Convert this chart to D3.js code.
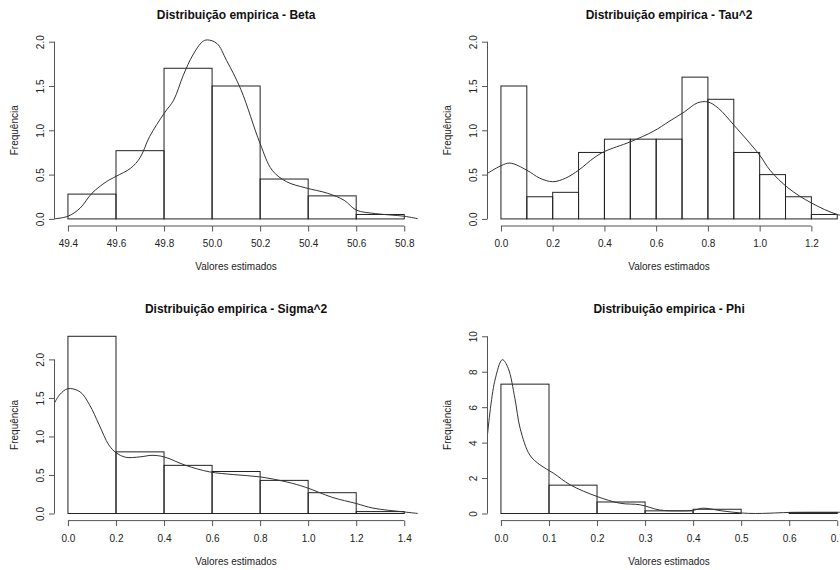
<!DOCTYPE html>
<html>
<head>
<meta charset="utf-8">
<script src="https://cdn.jsdelivr.net/npm/d3@7"></script>
<style>
  body { margin: 0; background: #fff; }
  svg { display: block; font-family: "Liberation Sans", Arial, sans-serif; }
  .tick text { fill: #222; font-size: 10px; }
  .tick line, .domain { stroke: #555; }
</style>
</head>
<body>
<div class="chart"></div>
<script>
// Histograms (density scale) with kernel density curves, four parameters

// --- Beta ---
const betaBreaks = [49.4, 49.6, 49.8, 50.0, 50.2, 50.4, 50.6, 50.8];
const betaHeights = [0.28, 0.77, 1.70, 1.50, 0.45, 0.26, 0.05];
const betaDensX = [49.34, 49.40, 49.45, 49.50, 49.56, 49.60, 49.66, 49.70, 49.74, 49.80, 49.84, 49.88, 49.92, 49.96, 49.98, 50.02, 50.06, 50.12, 50.20, 50.25, 50.31, 50.39, 50.48, 50.55, 50.60, 50.68, 50.80, 50.86];
const betaDensY = [0.00, 0.03, 0.12, 0.29, 0.42, 0.48, 0.57, 0.69, 0.93, 1.19, 1.34, 1.62, 1.85, 2.00, 2.02, 1.98, 1.79, 1.46, 0.85, 0.55, 0.42, 0.35, 0.29, 0.21, 0.10, 0.06, 0.03, 0.00];
const betaXTicks = [49.4, 49.6, 49.8, 50.0, 50.2, 50.4, 50.6, 50.8];
const betaYTicks = [0, 0.5, 1.0, 1.5, 2.0];

// --- Tau^2 ---
const tauBreaks = [0, 0.1, 0.2, 0.3, 0.4, 0.5, 0.6, 0.7, 0.8, 0.9, 1.0, 1.1, 1.2, 1.3];
const tauHeights = [1.50, 0.25, 0.30, 0.75, 0.90, 0.90, 0.90, 1.60, 1.35, 0.75, 0.50, 0.25, 0.05];
const tauDensX = [-0.06, 0.00, 0.035, 0.10, 0.15, 0.20, 0.25, 0.30, 0.36, 0.40, 0.50, 0.59, 0.65, 0.71, 0.76, 0.80, 0.84, 0.90, 1.00, 1.04, 1.11, 1.20, 1.30, 1.36];
const tauDensY = [0.50, 0.60, 0.63, 0.55, 0.46, 0.42, 0.46, 0.55, 0.69, 0.76, 0.87, 0.99, 1.10, 1.21, 1.31, 1.32, 1.25, 1.06, 0.72, 0.55, 0.35, 0.18, 0.05, 0.02];
const tauXTicks = [0, 0.2, 0.4, 0.6, 0.8, 1.0, 1.2];
const tauYTicks = [0, 0.5, 1.0, 1.5, 2.0];

// --- Sigma^2 ---
const sigmaBreaks = [0, 0.2, 0.4, 0.6, 0.8, 1.0, 1.2, 1.4];
const sigmaHeights = [2.30, 0.80, 0.625, 0.545, 0.43, 0.27, 0.025];
const sigmaDensX = [-0.06, -0.035, 0.00, 0.05, 0.09, 0.13, 0.17, 0.20, 0.24, 0.30, 0.35, 0.40, 0.49, 0.59, 0.69, 0.80, 0.91, 0.99, 1.10, 1.20, 1.27, 1.40, 1.46];
const sigmaDensY = [1.41, 1.54, 1.62, 1.58, 1.41, 1.15, 0.89, 0.79, 0.73, 0.735, 0.755, 0.735, 0.625, 0.54, 0.505, 0.475, 0.41, 0.34, 0.21, 0.13, 0.07, 0.02, 0.00];
const sigmaXTicks = [0, 0.2, 0.4, 0.6, 0.8, 1.0, 1.2, 1.4];
const sigmaYTicks = [0, 0.5, 1.0, 1.5, 2.0];

// --- Phi ---
const phiBreaks = [0, 0.1, 0.2, 0.3, 0.4, 0.5, 0.6, 0.7];
const phiHeights = [7.3, 1.6, 0.65, 0.15, 0.24, 0.0, 0.06];
const phiDensX = [-0.028, -0.013, 0.003, 0.015, 0.029, 0.04, 0.06, 0.081, 0.109, 0.144, 0.20, 0.248, 0.29, 0.33, 0.37, 0.40, 0.42, 0.46, 0.50, 0.53, 0.56, 0.60, 0.70, 0.73];
const phiDensY = [4.45, 7.46, 8.68, 8.2, 6.5, 4.8, 3.3, 2.75, 2.28, 1.62, 0.96, 0.58, 0.49, 0.2, 0.15, 0.18, 0.3, 0.15, 0.03, 0.0, 0.02, 0.06, 0.07, 0.07];
const phiXTicks = [0, 0.1, 0.2, 0.3, 0.4, 0.5, 0.6, 0.7];
const phiYTicks = [0, 2, 4, 6, 8, 10];

const panelTitles = ["Distribuição empirica - Beta", "Distribuição empirica - Tau^2",
  "Distribuição empirica - Sigma^2", "Distribuição empirica - Phi"];
const xTitle = "Valores estimados";
const yTitle = "Frequência";

// plot region geometry (same for all 4 panels, R-like layout)
const plotW = 363.2, plotH = 191.4;
const panels = [
  { left: 54.5, top: 34.6, breaks: betaBreaks, heights: betaHeights, dx: betaDensX, dy: betaDensY, xt: betaXTicks, yt: betaYTicks, ymax: 2, xfmt: ".1f", yfmt: ".1f" },
  { left: 487.5, top: 34.6, breaks: tauBreaks, heights: tauHeights, dx: tauDensX, dy: tauDensY, xt: tauXTicks, yt: tauYTicks, ymax: 2, xfmt: ".1f", yfmt: ".1f" },
  { left: 54.5, top: 329.2, breaks: sigmaBreaks, heights: sigmaHeights, dx: sigmaDensX, dy: sigmaDensY, xt: sigmaXTicks, yt: sigmaYTicks, ymax: 2.3, xfmt: ".1f", yfmt: ".1f" },
  { left: 487.5, top: 329.2, breaks: phiBreaks, heights: phiHeights, dx: phiDensX, dy: phiDensY, xt: phiXTicks, yt: phiYTicks, ymax: 10, xfmt: ".1f", yfmt: "d" }
];

const svg = d3.select(".chart")
  .append("svg")
  .attr("width", 840)
  .attr("height", 570);

svg.append("rect").attr("width", 840).attr("height", 570).attr("fill", "#fff");

panels.forEach(function (p, i) {
  p.title = panelTitles[i];
  drawPanel(p, i);
});

function drawPanel(p, i) {
  const g = svg.append("g")
    .attr("transform", "translate(" + p.left + "," + p.top + ")");

  // R pads the axis range by 4% on each side
  const lo = p.breaks[0], hi = p.breaks[p.breaks.length - 1];
  const padX = (hi - lo) * 0.04, padY = p.ymax * 0.04;
  const x = d3.scaleLinear().domain([lo - padX, hi + padX]).range([0, plotW]);
  const y = d3.scaleLinear().domain([-padY, p.ymax + padY]).range([plotH, 0]);

  g.append("clipPath").attr("id", "clip" + i)
    .append("rect").attr("width", plotW).attr("height", plotH);

  // histogram bars
  const bins = p.heights.map(function (h, k) {
    return { x0: p.breaks[k], x1: p.breaks[k + 1], h: h };
  });
  g.append("g")
    .selectAll("rect")
    .data(bins)
    .enter()
    .append("rect")
    .attr("x", function (d) { return x(d.x0); })
    .attr("y", function (d) { return y(d.h); })
    .attr("width", function (d) { return x(d.x1) - x(d.x0); })
    .attr("height", function (d) { return y(0) - y(d.h); })
    .attr("fill", "none")
    .attr("stroke", "#222")
    .attr("stroke-width", 1);

  // density curve
  const pts = p.dx.map(function (v, k) { return [v, p.dy[k]]; });
  const line = d3.line()
    .x(function (d) { return x(d[0]); })
    .y(function (d) { return y(d[1]); })
    .curve(d3.curveCatmullRom.alpha(0.5));
  g.append("path")
    .datum(pts)
    .attr("clip-path", "url(#clip" + i + ")")
    .attr("d", line)
    .attr("fill", "none")
    .attr("stroke", "#333")
    .attr("stroke-width", 1);

  // x axis (line only spans first to last tick, like R)
  const xa = g.append("g")
    .attr("transform", "translate(0," + plotH + ")")
    .call(d3.axisBottom(x).tickValues(p.xt).tickSize(5.5).tickPadding(8.5).tickFormat(d3.format(p.xfmt)));
  xa.select(".domain").attr("d", "M" + x(p.xt[0]) + ",0H" + x(p.xt[p.xt.length - 1]));

  // y axis with rotated labels
  const ya = g.append("g")
    .call(d3.axisLeft(y).tickValues(p.yt).tickSize(5.5).tickFormat(d3.format(p.yfmt)));
  ya.select(".domain").attr("d", "M0," + y(p.yt[0]) + "V" + y(p.yt[p.yt.length - 1]));
  ya.selectAll(".tick text")
    .attr("transform", "rotate(-90)")
    .attr("x", 0)
    .attr("y", -11)
    .attr("dy", 0)
    .attr("text-anchor", "middle");

  // titles
  g.append("text")
    .attr("x", plotW / 2)
    .attr("y", -16)
    .attr("text-anchor", "middle")
    .style("font-size", "12px")
    .style("font-weight", "bold")
    .attr("fill", "#111")
    .text(p.title);

  g.append("text")
    .attr("x", plotW / 2)
    .attr("y", plotH + 44.5)
    .attr("text-anchor", "middle")
    .style("font-size", "10px")
    .attr("fill", "#222")
    .text(xTitle);

  g.append("text")
    .attr("transform", "rotate(-90)")
    .attr("x", -plotH / 2)
    .attr("y", -36.5)
    .attr("text-anchor", "middle")
    .style("font-size", "10px")
    .attr("fill", "#222")
    .text(yTitle);
}
</script>
</body>
</html>
